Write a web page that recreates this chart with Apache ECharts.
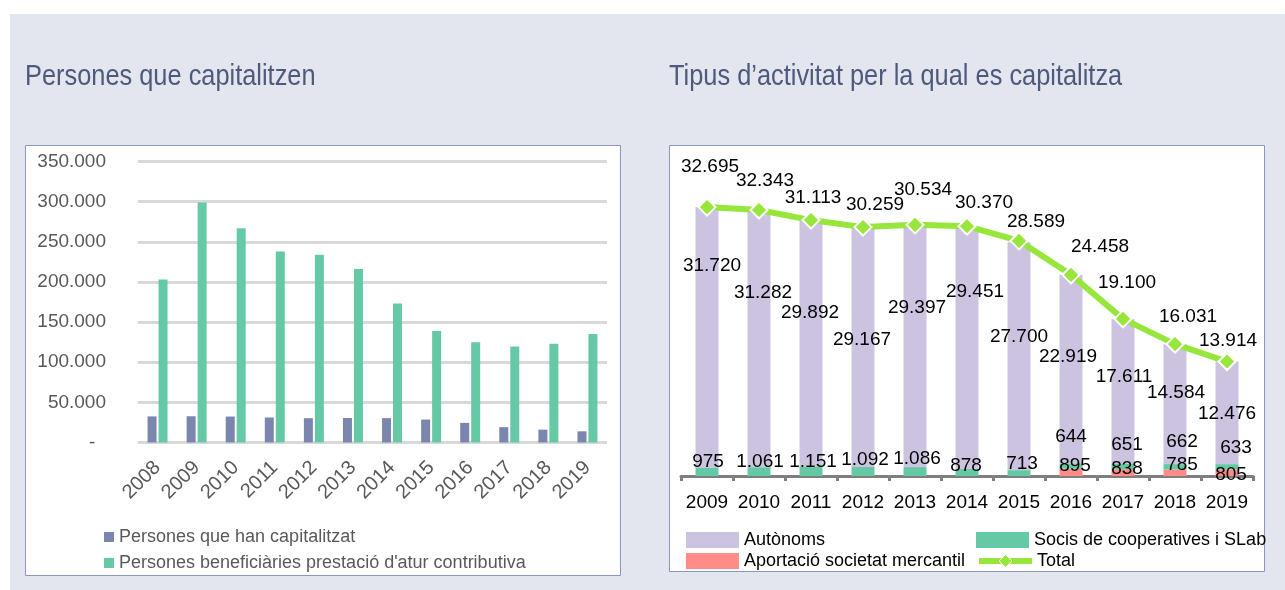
<!DOCTYPE html>
<html>
<head>
<meta charset="utf-8">
<script src="https://cdn.jsdelivr.net/npm/echarts@6/dist/echarts.min.js"></script>
<style>
  html, body { margin: 0; padding: 0; background: #ffffff; }
  #chart { width: 1285px; height: 590px; }
</style>
</head>
<body>
<div id="chart"></div>
<script>
// ---- Persones que capitalitzen (2008-2019) ----
const leftYears = ['2008', '2009', '2010', '2011', '2012', '2013', '2014', '2015', '2016', '2017', '2018', '2019'];
const capitalitzat = [32500, 32695, 32343, 31113, 30259, 30534, 30370, 28589, 24458, 19100, 16031, 13914];
const beneficiaries = [203000, 299000, 267000, 238000, 234000, 216000, 173000, 139000, 125000, 119500, 123000, 135000];
const leftAxisMax = 350000;
const leftAxisStep = 50000;

// ---- Tipus d'activitat per la qual es capitalitza (2009-2019) ----
const rightYears = ['2009', '2010', '2011', '2012', '2013', '2014', '2015', '2016', '2017', '2018', '2019'];
const autonoms = [31720, 31282, 29892, 29167, 29397, 29451, 27700, 22919, 17611, 14584, 12476];
const socis = [975, 1061, 1151, 1092, 1086, 878, 713, 644, 651, 662, 633];
const aportacio = [null, null, null, null, null, null, null, 895, 838, 785, 805];
const total = [32695, 32343, 31113, 30259, 30534, 30370, 28589, 24458, 19100, 16031, 13914];

const titles = ['Persones que capitalitzen', 'Tipus d\u2019activitat per la qual es capitalitza'];

// Hand-placed data label nudges [dx, dy] (pixels), one per year
const autonomsLabelShift = [[5, -72], [4, -46], [-1, -31], [-1, -7], [2, -38], [8, -56], [0, -19], [-3, -12], [1, -15], [1, -11], [0, 1]];
const socisLabelShift = [[1, -10], [1, -10], [2, -10], [2, -12], [2, -13], [-1, -7], [3, -9], [0, -29], [4, -22], [7, -25], [9, -19]];
const aportacioLabelShift = [[0, 0], [0, 0], [0, 0], [0, 0], [0, 0], [0, 0], [0, 0], [4, -7], [4, -4], [7, -8], [4, 2]];
const totalLabelShift = [[3, -40], [6, -29], [2, -22], [12, -22], [8, -35], [17, -23], [17, -19], [29, -28], [4, -36], [13, -27], [1, -21]];

const FONT = "'Liberation Sans', Arial, sans-serif";

const C = {
  panel: '#e3e6ef',
  frame: '#8b97c1',
  title: '#4e5a7b',
  grid: '#d9d9d9',
  tick: '#595959',
  capit: '#7a86ad',
  benef: '#66c9a6',
  auto: '#ccc3e0',
  socis: '#66c9a6',
  aport: '#ff8c86',
  total: '#97e63b',
  axisDark: '#7f7f7f'
};

function thousands(v) {
  return String(Math.round(v)).replace(/\B(?=(\d{3})+(?!\d))/g, '.');
}

function withShift(values, shifts) {
  return values.map((v, i) => ({ value: v, label: { offset: shifts[i] } }));
}

const dataLabel = {
  show: true,
  position: 'inside',
  fontFamily: FONT,
  fontSize: 19,
  color: '#000',
  formatter: p => thousands(p.value)
};

// Condensed heading text
function heading(text, x) {
  return {
    type: 'text', x: x, y: 77, scaleX: 0.875, z: 10,
    style: { text: text, font: '29px ' + FONT, fill: C.title, verticalAlign: 'middle', align: 'left' }
  };
}

const legendText = { fontFamily: FONT, fontSize: 18, color: '#000' };

const chart = echarts.init(document.getElementById('chart'), null, { renderer: 'canvas' });

chart.setOption({
  animation: false,
  backgroundColor: '#ffffff',
  graphic: [
    { type: 'rect', z: -10, shape: { x: 10, y: 14, width: 1275, height: 576 }, style: { fill: C.panel } },
    { type: 'rect', z: -9, shape: { x: 25.5, y: 145.5, width: 595, height: 430 }, style: { fill: '#fff', stroke: C.frame, lineWidth: 1 } },
    { type: 'rect', z: -9, shape: { x: 669.5, y: 145.5, width: 595, height: 426 }, style: { fill: '#fff', stroke: C.frame, lineWidth: 1 } },
    heading(titles[0], 25),
    heading(titles[1], 669)
  ],
  legend: [
    { data: ['Persones que han capitalitzat', 'Persones beneficiàries prestació d\'atur contributiva'],
      orient: 'vertical', left: 104, top: 528, padding: 0, itemGap: 8, itemWidth: 10, itemHeight: 10,
      icon: 'rect', selectedMode: false,
      textStyle: Object.assign({}, legendText, { color: C.tick }) },
    { data: ['Autònoms'], left: 686, top: 531, padding: 0, itemWidth: 53, itemHeight: 16, icon: 'rect', selectedMode: false,
      textStyle: legendText },
    { data: ['Socis de cooperatives i SLab'], left: 976, top: 531, padding: 0, itemWidth: 53, itemHeight: 16, icon: 'rect', selectedMode: false,
      textStyle: legendText },
    { data: ['Aportació societat mercantil'], left: 686, top: 552, padding: 0, itemWidth: 53, itemHeight: 16, icon: 'rect', selectedMode: false,
      textStyle: legendText },
    { data: ['Total'], left: 976, top: 552, padding: 0, itemWidth: 53, itemHeight: 16, selectedMode: false,
      lineStyle: { width: 6, color: C.total },
      itemStyle: { color: C.total, borderColor: '#fff', borderWidth: 1 },
      textStyle: legendText }
  ],
  grid: [
    { left: 138, right: 678, top: 161.5, bottom: 147.5, containLabel: false },
    { left: 681, right: 32, top: 147, bottom: 114, containLabel: false }
  ],
  xAxis: [
    { type: 'category', gridIndex: 0, data: leftYears,
      axisLine: { show: false }, axisTick: { show: false },
      axisLabel: { rotate: 45, interval: 0, margin: 22, fontFamily: FONT, fontSize: 20, color: C.tick } },
    { type: 'category', gridIndex: 1, data: rightYears,
      axisLine: { show: true, lineStyle: { color: C.axisDark, width: 3 } },
      axisTick: { show: true, length: 5, lineStyle: { color: C.axisDark, width: 3 } },
      axisLabel: { interval: 0, margin: 17, fontFamily: FONT, fontSize: 19, color: '#000' } }
  ],
  yAxis: [
    { type: 'value', gridIndex: 0, min: 0, max: leftAxisMax, interval: leftAxisStep,
      axisLine: { show: false }, axisTick: { show: false },
      splitLine: { show: true, lineStyle: { color: C.grid, width: 3 } },
      axisLabel: { margin: 32, fontFamily: FONT, fontSize: 19, color: C.tick,
        formatter: v => (v === 0 ? '-  ' : thousands(v)) } },
    { type: 'value', gridIndex: 1, min: 0, max: 40000, show: false, splitLine: { show: false } }
  ],
  series: [
    { name: 'Persones que han capitalitzat', type: 'bar', xAxisIndex: 0, yAxisIndex: 0,
      data: capitalitzat, barWidth: 9, barGap: '22%',
      itemStyle: { color: C.capit } },
    { name: 'Persones beneficiàries prestació d\'atur contributiva', type: 'bar', xAxisIndex: 0, yAxisIndex: 0,
      data: beneficiaries, barWidth: 9, barGap: '22%',
      itemStyle: { color: C.benef } },

    { name: 'Aportació societat mercantil', type: 'bar', xAxisIndex: 1, yAxisIndex: 1, stack: 'act',
      data: withShift(aportacio, aportacioLabelShift), barWidth: 23,
      itemStyle: { color: C.aport }, label: dataLabel, z: 3 },
    { name: 'Socis de cooperatives i SLab', type: 'bar', xAxisIndex: 1, yAxisIndex: 1, stack: 'act',
      data: withShift(socis, socisLabelShift), barWidth: 23,
      itemStyle: { color: C.socis }, label: dataLabel, z: 3 },
    { name: 'Autònoms', type: 'bar', xAxisIndex: 1, yAxisIndex: 1, stack: 'act',
      data: withShift(autonoms, autonomsLabelShift), barWidth: 23,
      itemStyle: { color: C.auto }, label: dataLabel, z: 2 },
    { name: 'Total', type: 'line', xAxisIndex: 1, yAxisIndex: 1,
      data: withShift(total, totalLabelShift),
      symbol: 'diamond', symbolSize: 17,
      lineStyle: { color: C.total, width: 6 },
      itemStyle: { color: C.total, borderColor: '#ffffff', borderWidth: 2 },
      label: dataLabel, z: 5 }
  ]
});
</script>
</body>
</html>
